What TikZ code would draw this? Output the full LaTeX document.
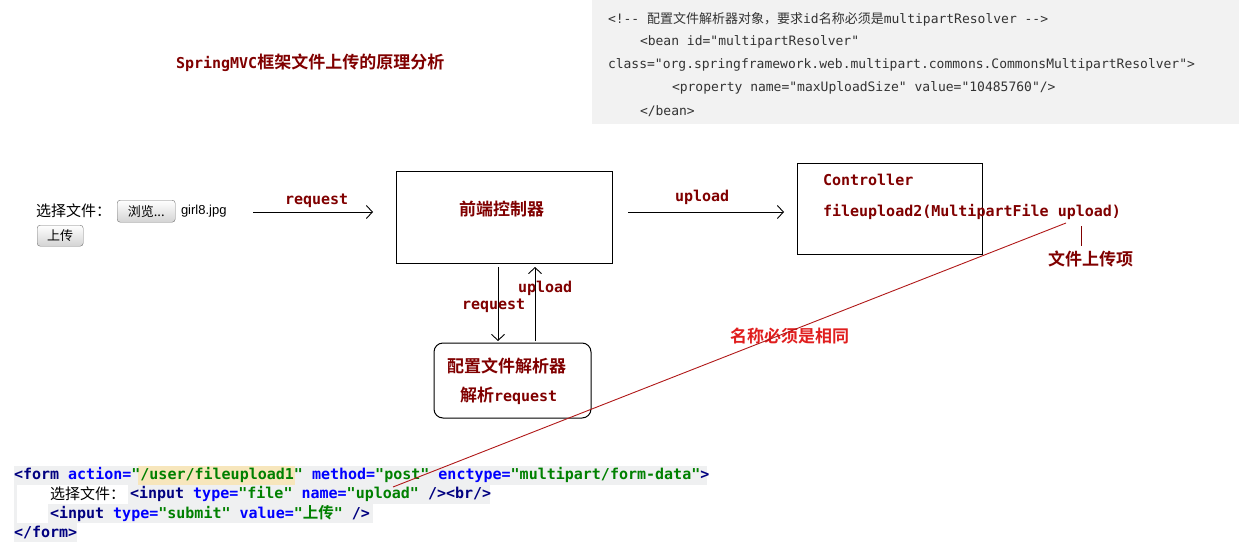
\documentclass[tikz,border=0pt]{standalone}
\usepackage{fontspec}
\usetikzlibrary{arrows.meta}
\newfontfamily\cjk[BoldFont={* Bold}]{Noto Sans CJK SC}
\newfontfamily\mono{DejaVu Sans Mono}
\newfontfamily\lsans{Liberation Sans}
\definecolor{dred}{HTML}{800000}
\definecolor{rred}{HTML}{E01E1E}
\definecolor{lred}{HTML}{B01818}
\definecolor{tagc}{HTML}{000080}
\definecolor{attrc}{HTML}{0000FF}
\definecolor{valc}{HTML}{008000}
\definecolor{codebg}{HTML}{EFF0F1}
\definecolor{hlbg}{HTML}{F7E6BC}
\definecolor{boxbg}{HTML}{F2F2F2}
\definecolor{graytext}{HTML}{333333}
\newcommand\mytag[1]{\textcolor{tagc}{#1}}
\newcommand\myattr[1]{\textcolor{attrc}{#1}}
\newcommand\myval[1]{\textcolor{valc}{#1}}
\newcommand\drm[1]{{\fontsize{15}{18}\mono\bfseries #1}}
\newcommand\drc[1]{{\fontsize{17}{20}\cjk\bfseries #1}}
\begin{document}
\begin{tikzpicture}[x=1pt,y=-1pt,
  txt/.style={inner sep=0pt, outer sep=0pt, anchor=west},
  dr/.style={txt, text=dred},
  xmlt/.style={txt, text=graytext, font=\fontsize{13}{15}\mono},
  code/.style={txt, font=\fontsize{15}{18}\mono\bfseries},
  frame/.style={draw=black, line width=1pt, inner sep=0pt},
  arr/.style={-{Straight Barb[length=6pt,width=13pt]}, line width=0.9pt},
  btn/.style={draw=black!55, rounded corners=3pt, top color=white, bottom color=black!17, inner sep=0pt, font=\fontsize{13}{15}\cjk}
]
\useasboundingbox (0,0) rectangle (1239,557);
% top right config box
\fill[boxbg] (592,0) rectangle (1239,124);
\node[xmlt] (x1) at (608,19) {<!-{}- {\cjk 配置文件解析器对象，要求}id{\cjk 名称必须是}multipartResolver -{}->};
\node[xmlt] (x2) at (640,42) {<bean id="multipartResolver"};
\node[xmlt] (x3) at (608,65) {class="org.springframework.web.multipart.commons.CommonsMultipartResolver">};
\node[xmlt] (x4) at (672,88) {<property name="maxUploadSize" value="10485760"/>};
\node[xmlt] (x5) at (640,111) {</bean>};
% title
\node[dr] (title) at (176,63) {\drm{SpringMVC}\drc{框架文件上传的原理分析}};
% left form
\node[txt, font=\fontsize{15}{18}\cjk] (sel) at (36,211) {选择文件：};
\node[btn, minimum width=58pt, minimum height=22pt, anchor=north west] (browse) at (117,200) {浏览...};
\node[txt, font=\fontsize{13}{15}\lsans] (fname) at (181,211) {girl8.jpg};
\node[btn, minimum width=46pt, minimum height=21pt, anchor=north west] (upbtn) at (37,225) {上传};
% front controller
\node[frame, minimum width=216pt, minimum height=92pt] (front) at (504,217) {};
\node[dr] (frontt) at (459,209) {\drc{前端控制器}};
% controller box
\node[frame, minimum width=185pt, minimum height=91pt] (ctrl) at (889.5,208.5) {};
\node[dr] (ctrl1) at (823,180) {\drm{Controller}};
\node[dr] (ctrl2) at (823,212) {\drm{fileupload2(MultipartFile upload)}};
% resolver box
\node[frame, rounded corners=9pt, minimum width=157pt, minimum height=75pt] (resv) at (512.5,380.5) {};
\node[dr] (resv1) at (447,366) {\drc{配置文件解析器}};
\node[dr] (resv2) at (460,396) {\drc{解析}\drm{request}};
% arrows
\coordinate (rqa) at (253,212);
\coordinate (rqb) at (373,212);
\draw[arr] (rqa) -- (rqb);
\node[dr] (rql) at (285,201) {\drm{request}};
\coordinate (upa) at (628,212);
\coordinate (upb) at (784,212);
\draw[arr] (upa) -- (upb);
\node[dr] (upl) at (675,197) {\drm{upload}};
\coordinate (dna) at (498,267);
\coordinate (dnb) at (498,341);
\draw[arr] (dna) -- (dnb);
\node[dr] (dnl) at (462,306) {\drm{request}};
\coordinate (ua) at (535,341);
\coordinate (ub) at (535,267);
\draw[arr] (ua) -- (ub);
\node[dr] (ul) at (518,288) {\drm{upload}};
% file item marker
\coordinate (fa) at (1081,226);
\coordinate (fb) at (1081,246);
\draw[dred, line width=1pt] (fa) -- (fb);
\node[dr] (fitem) at (1048,259) {\drc{文件上传项}};
% red note
\node[txt, text=rred] (same) at (730,336) {\drc{名称必须是相同}};
% bottom code
\fill[codebg] (14,466) rectangle (707,485);
\fill[hlbg] (138,466) rectangle (295,485);
\fill[codebg] (14,485) rectangle (17,523);
\fill[codebg] (128,485) rectangle (490,504);
\fill[codebg] (48,504) rectangle (373,523);
\fill[codebg] (14,523) rectangle (77,542);
\node[code] (c1) at (14,475) {\mytag{<form} \myattr{action=}\myval{"/user/fileupload1"} \myattr{method=}\myval{"post"} \myattr{enctype=}\myval{"multipart/form-data"}\mytag{>}};
\node[txt, font=\fontsize{15}{18}\cjk] (c2a) at (50,494) {选择文件：};
\node[code] (c2b) at (130,494) {\mytag{<input} \myattr{type=}\myval{"file"} \myattr{name=}\myval{"upload"} \mytag{/>}\mytag{<br/>}};
\node[code] (c3) at (50,513) {\mytag{<input} \myattr{type=}\myval{"submit"} \myattr{value=}\myval{"{\fontsize{15.5}{18}\cjk 上传}"} \mytag{/>}};
\node[code] (c4) at (14,532) {\mytag{</form>}};
% connecting red line
\coordinate (la) at (393,487);
\coordinate (lb) at (1066,223);
\draw[lred, line width=0.9pt] (la) -- (lb);
\end{tikzpicture}
\end{document}
